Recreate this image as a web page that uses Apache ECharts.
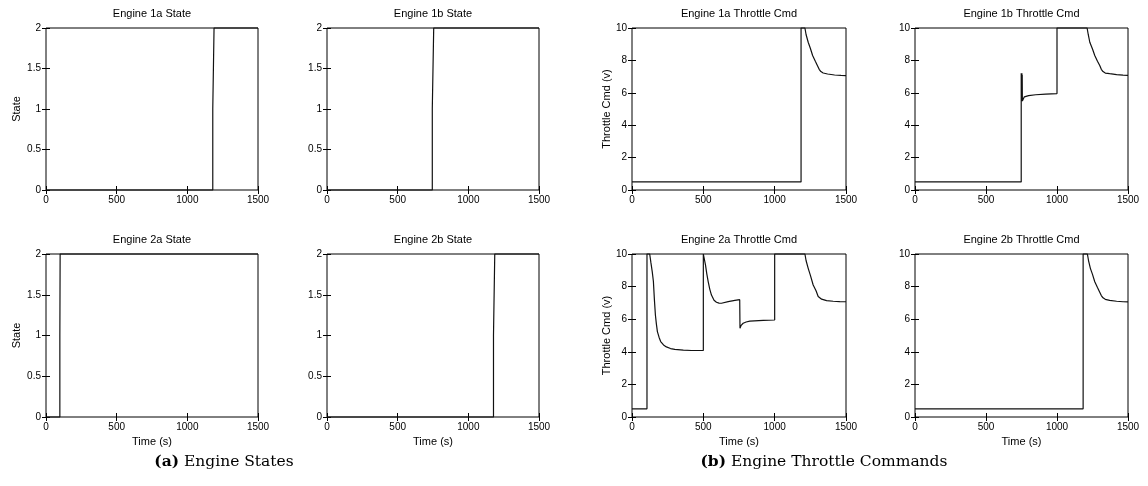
<!DOCTYPE html>
<html><head><meta charset="utf-8">
<script src="https://cdn.jsdelivr.net/npm/echarts@6/dist/echarts.min.js"></script>
<style>html,body{margin:0;padding:0;background:#fff}#c{width:1148px;height:486px}</style>
</head><body><div id="c"></div><script>
// ---- data ----
const titles = ['Engine 1a State','Engine 1b State','Engine 2a State','Engine 2b State',
  'Engine 1a Throttle Cmd','Engine 1b Throttle Cmd','Engine 2a Throttle Cmd','Engine 2b Throttle Cmd'];
const xTicks = [0, 500, 1000, 1500];
const stateTicks = [0, 0.5, 1, 1.5, 2];
const throttleTicks = [0, 2, 4, 6, 8, 10];
const captions = ['Engine States', 'Engine Throttle Commands'];

const state1a = [[0,0],[1180,0],[1180,1],[1189,1],[1189,2],[1500,2]];
const state1b = [[0,0],[745,0],[745,1],[755,1],[755,2],[1500,2]];
const state2a = [[0,0],[98,0],[98,1],[100,1],[100,2],[1500,2]];
const state2b = [[0,0],[1178,0],[1178,1],[1187,1],[1187,2],[1500,2]];

const throttle1a = [[0,0.5],[1185,0.5],[1185,10],[1212,10],[1220,9.6],[1235,9.12],[1250,8.75],[1266,8.3],
  [1285,7.95],[1301,7.66],[1312,7.45],[1324,7.31],[1340,7.22],[1371,7.16],[1420,7.1],[1465,7.07],[1500,7.06]];
const throttle1b = [[0,0.5],[748,0.5],[748,7.2],[750,5.5],[751,7.2],[752,5.5],[753,7.2],[754,5.5],[755,7.1],
  [756,5.5],[760,5.6],[770,5.75],[800,5.83],[850,5.88],[920,5.92],[1000,5.95],[1000,10],[1212,10],[1220,9.6],
  [1231,9.12],[1250,8.7],[1266,8.3],[1285,7.95],[1301,7.68],[1312,7.45],[1324,7.31],[1340,7.22],[1371,7.18],
  [1420,7.12],[1465,7.09],[1500,7.08]];
const throttle2a = [[0,0.5],[105,0.5],[105,10],[124,10],[132,9.5],[142,8.9],[150,8.31],[157,7.2],[164,6.26],
  [171,5.7],[178,5.24],[190,4.88],[201,4.63],[221,4.42],[241,4.3],[270,4.2],[300,4.15],[360,4.1],[417,4.08],
  [500,4.08],[500,10],[505,10],[515,9.33],[524,8.8],[534,8.31],[545,7.85],[557,7.48],[575,7.16],[592,7.04],
  [610,6.99],[627,6.98],[674,7.08],[721,7.15],[755,7.2],[757,5.44],[765,5.62],[779,5.75],[800,5.83],[826,5.88],
  [920,5.93],[1000,5.95],[1000,10],[1212,10],[1220,9.6],[1235,9.12],[1250,8.7],[1270,8.1],[1290,7.75],
  [1305,7.39],[1315,7.3],[1329,7.23],[1364,7.14],[1410,7.1],[1456,7.08],[1500,7.07]];
const throttle2b = [[0,0.5],[1184,0.5],[1184,10],[1214,10],[1222,9.6],[1235,9.12],[1250,8.75],[1266,8.3],
  [1285,7.95],[1301,7.66],[1312,7.45],[1324,7.31],[1340,7.22],[1371,7.16],[1420,7.1],[1465,7.07],[1500,7.06]];

const seriesData = [state1a, state1b, state2a, state2b, throttle1a, throttle1b, throttle2a, throttle2b];

// ---- layout ----
const gridBoxes = [
  {left:46, top:28, width:212, height:162},
  {left:327, top:28, width:212, height:162},
  {left:46, top:254, width:212, height:163},
  {left:327, top:254, width:212, height:163},
  {left:632, top:28, width:214, height:162},
  {left:915, top:28, width:213, height:162},
  {left:632, top:254, width:214, height:163},
  {left:915, top:254, width:213, height:163}
];
const FONT = '"Liberation Sans", Arial, Helvetica, sans-serif';
const plain = v => String(v);
const grid = [], xAxis = [], yAxis = [], series = [], title = [];
gridBoxes.forEach((g, i) => {
  const isState = i < 4;
  const yT = isState ? stateTicks : throttleTicks;
  const yMax = yT[yT.length - 1];
  const yInt = yT[1] - yT[0];
  const leftCol = (i % 2 === 0);
  const bottomRow = (i % 4) >= 2;
  grid.push({left:g.left, top:g.top, width:g.width, height:g.height, show:true,
    borderColor:'#000', borderWidth:1, backgroundColor:'#fff', containLabel:false});
  const tick = {show:true, inside:true, length:4, lineStyle:{color:'#000', width:1}};
  const common = {type:'value', min:xTicks[0], max:xTicks[xTicks.length-1], interval:xTicks[1]-xTicks[0], gridIndex:i,
    splitLine:{show:false}, axisLine:{show:false}, axisTick:tick};
  xAxis.push(Object.assign({}, common, {position:'bottom',
    axisLabel:{show:true, color:'#000', fontSize:10, fontFamily:FONT, margin:5, formatter:plain},
    name: bottomRow ? 'Time (s)' : '', nameLocation:'middle', nameGap:19,
    nameTextStyle:{color:'#000', fontSize:11, fontFamily:FONT}}));
  xAxis.push(Object.assign({}, common, {position:'top', axisLabel:{show:false}}));
  const ycommon = {type:'value', min:yT[0], max:yMax, interval:yInt, gridIndex:i,
    splitLine:{show:false}, axisLine:{show:false}, axisTick:tick};
  yAxis.push(Object.assign({}, ycommon, {position:'left',
    axisLabel:{show:true, color:'#000', fontSize:10, fontFamily:FONT, margin:5, formatter:plain},
    name: leftCol ? (isState ? 'State' : 'Throttle Cmd (v)') : '', nameLocation:'middle',
    nameGap: isState ? 24 : 18, nameRotate:90,
    nameTextStyle:{color:'#000', fontSize:11, fontFamily:FONT}}));
  yAxis.push(Object.assign({}, ycommon, {position:'right', axisLabel:{show:false}}));
  series.push({type:'line', xAxisIndex:2*i, yAxisIndex:2*i, data:seriesData[i], showSymbol:false,
    symbol:'none', animation:false, lineStyle:{color:'#111', width:1.2}, clip:false, z:3});
  title.push({text:titles[i], left:g.left + g.width/2, top:(g.top < 100 ? 8 : 234), textAlign:'center', padding:0,
    textStyle:{fontSize:11, fontWeight:'normal', color:'#000', fontFamily:FONT}});
});

const chart = echarts.init(document.getElementById('c'), null, {renderer:'canvas'});
chart.setOption({
  animation:false,
  backgroundColor:'#fff',
  title, grid, xAxis, yAxis, series,
  graphic:[
    {type:'text', x:224, y:462, style:{text:'{b|(a)} ' + captions[0], textAlign:'center', textVerticalAlign:'middle',
      font:'15.5px "DejaVu Serif", serif', fill:'#000',
      rich:{b:{fontWeight:'bold', fontSize:15.5, fontFamily:'"DejaVu Serif", serif'}}}},
    {type:'text', x:824, y:462, style:{text:'{b|(b)} ' + captions[1], textAlign:'center', textVerticalAlign:'middle',
      font:'15.5px "DejaVu Serif", serif', fill:'#000',
      rich:{b:{fontWeight:'bold', fontSize:15.5, fontFamily:'"DejaVu Serif", serif'}}}}
  ]
});
</script></body></html>
